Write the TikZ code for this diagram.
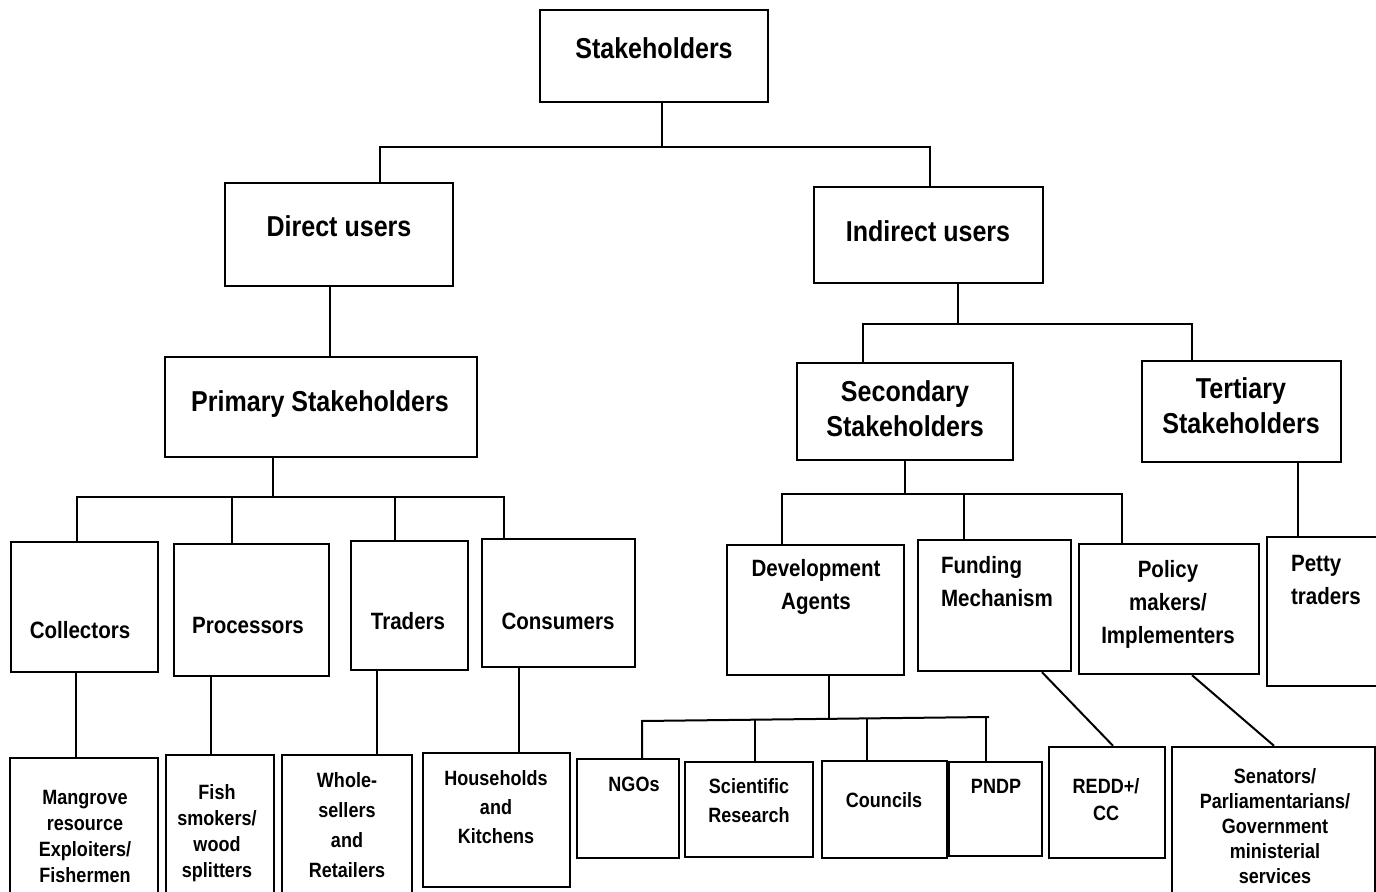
\documentclass[tikz,border=0pt]{standalone}
\usepackage{fontspec}
\setmainfont[FakeStretch=0.87]{Liberation Sans}
\usetikzlibrary{fit}
\begin{document}
\begin{tikzpicture}[x=0.5pt,y=-0.5pt]
  \tikzstyle{box}=[draw,line width=1.2pt,inner sep=0pt]
  \tikzstyle{link}=[line width=1pt]
  \tikzstyle{lvlone}=[font=\fontsize{14.4}{17.5}\selectfont\bfseries,align=center]
  \tikzstyle{lvltwo}=[font=\fontsize{11.8}{16.5}\selectfont\bfseries,align=center]
  \tikzstyle{lvlthree}=[font=\fontsize{10.35}{13}\selectfont\bfseries,align=center]
 \useasboundingbox (0,0) rectangle (1376,892);
 \clip (0,0) rectangle (1376,892);

 \node[box,fit={(540,10) (768,102)}] (stake) {};
 \node[box,fit={(225,183) (453,286)}] (direct) {};
 \node[box,fit={(814,187) (1043,283)}] (indirect) {};
 \node[box,fit={(165,357) (477,457)}] (primary) {};
 \node[box,fit={(797,363) (1013,460)}] (secondary) {};
 \node[box,fit={(1142,361) (1341,462)}] (tertiary) {};
 \node[box,fit={(11,542) (158,672)}] (collect) {};
 \node[box,fit={(174,544) (329,676)}] (process) {};
 \node[box,fit={(351,541) (468,670)}] (trade) {};
 \node[box,fit={(482,539) (635,667)}] (consume) {};
 \node[box,fit={(727,545) (904,675)}] (develop) {};
 \node[box,fit={(918,540) (1071,671)}] (funding) {};
 \node[box,fit={(1079,544) (1259,674)}] (policy) {};
 \node[box,fit={(1267,537) (1400,686)}] (petty) {};
 \node[box,fit={(10,758) (158,910)}] (mangrove) {};
 \node[box,fit={(166,755) (274,910)}] (fish) {};
 \node[box,fit={(282,755) (412,910)}] (whole) {};
 \node[box,fit={(423,753) (570,887)}] (house) {};
 \node[box,fit={(577,759) (679,858)}] (ngo) {};
 \node[box,fit={(685,762) (813,857)}] (science) {};
 \node[box,fit={(822,761) (947,858)}] (council) {};
 \node[box,fit={(949,762) (1042,856)}] (pndp) {};
 \node[box,fit={(1049,747) (1165,858)}] (redd) {};
 \node[box,fit={(1172,747) (1375,910)}] (senator) {};

 \node[lvlone] (stake-t) at (654,48) {Stakeholders};
 \node[lvlone] (direct-t) at (339,226) {Direct users};
 \node[lvlone] (indirect-t) at (928,231) {Indirect users};
 \node[lvlone] (primary-t) at (320,404) {Primary Stakeholders};
 \node[lvlone] (secondary-t) at (905,409) {Secondary\\Stakeholders};
 \node[lvlone] (tertiary-t) at (1241,406) {Tertiary\\Stakeholders};
 \node[lvltwo] (collect-t) at (80,630) {Collectors};
 \node[lvltwo] (process-t) at (248,625) {Processors};
 \node[lvltwo] (trade-t) at (408,621) {Traders};
 \node[lvltwo] (consume-t) at (558,621) {Consumers};
 \node[lvltwo] (develop-t) at (816,587) {Development\\Agents};
 \node[lvltwo,anchor=west,align=left] (funding-t) at (934,582) {Funding\\Mechanism};
 \node[lvltwo] (policy-t) at (1168,604) {Policy\\makers/\\Implementers};
 \node[lvltwo,anchor=west,align=left] (petty-t) at (1284,580) {Petty\\traders};
 \node[lvlthree] (mangrove-t) at (85,836) {Mangrove\\resource\\Exploiters/\\Fishermen};
 \node[lvlthree] (fish-t) at (217,833) {Fish\\smokers/\\wood\\splitters};
 \node[lvlthree,font=\fontsize{10.35}{15}\selectfont\bfseries] (whole-t) at (347,825) {Whole-\\sellers\\and\\Retailers};
 \node[lvlthree,font=\fontsize{10.35}{14.5}\selectfont\bfseries] (house-t) at (496,807) {Households\\and\\Kitchens};
 \node[lvlthree] (ngo-t) at (634,784) {NGOs};
 \node[lvlthree,font=\fontsize{10.35}{14.5}\selectfont\bfseries] (science-t) at (749,801) {Scientific\\Research};
 \node[lvlthree] (council-t) at (884,800) {Councils};
 \node[lvlthree] (pndp-t) at (996,786) {PNDP};
 \node[lvlthree,font=\fontsize{10.35}{13.5}\selectfont\bfseries] (redd-t) at (1106,800) {REDD+/\\CC};
 \node[lvlthree,font=\fontsize{10.35}{12.5}\selectfont\bfseries] (senator-t) at (1275,826) {Senators/\\Parliamentarians/\\Government\\ministerial\\services};

 \coordinate (a0) at (662,147);
 \coordinate (a1) at (380,147);
 \coordinate (a2) at (930,147);
 \coordinate (b0) at (958,324);
 \coordinate (b1) at (863,324);
 \coordinate (b2) at (1192,324);
 \coordinate (c0) at (273,497);
 \coordinate (c1) at (77,497);
 \coordinate (c2) at (232,497);
 \coordinate (c3) at (395,497);
 \coordinate (c4) at (504,497);
 \coordinate (d0) at (905,494);
 \coordinate (d1) at (782,494);
 \coordinate (d2) at (964,494);
 \coordinate (d3) at (1122,494);
 \coordinate (e0) at (829,719);
 \coordinate (e1) at (642,721);
 \coordinate (e2) at (755,720);
 \coordinate (e3) at (867,719);
 \coordinate (e4) at (989,717);
 \coordinate (e5) at (986,717);

 \draw[link] (stake.south -| a0) -- (a0);
 \draw[link] (direct.north -| a1) -- (a1) -- (a2) -- (indirect.north -| a2);
 \draw[link] (direct.south -| 330,0) -- (primary.north -| 330,0);
 \draw[link] (indirect.south -| b0) -- (b0);
 \draw[link] (secondary.north -| b1) -- (b1) -- (b2) -- (tertiary.north -| b2);
 \draw[link] (primary.south -| c0) -- (c0);
 \draw[link] (collect.north -| c1) -- (c1) -- (c4) -- (consume.north -| c4);
 \draw[link] (c2) -- (process.north -| c2);
 \draw[link] (c3) -- (trade.north -| c3);
 \draw[link] (secondary.south -| d0) -- (d0);
 \draw[link] (develop.north -| d1) -- (d1) -- (d3) -- (policy.north -| d3);
 \draw[link] (d2) -- (funding.north -| d2);
 \draw[link] (tertiary.south -| 1298,0) -- (petty.north -| 1298,0);
 \draw[link] (collect.south -| 76,0) -- (mangrove.north -| 76,0);
 \draw[link] (process.south -| 211,0) -- (fish.north -| 211,0);
 \draw[link] (trade.south -| 377,0) -- (whole.north -| 377,0);
 \draw[link] (consume.south -| 519,0) -- (house.north -| 519,0);
 \draw[link] (develop.south -| e0) -- (e0);
 \draw[link] (ngo.north -| e1) -- (e1) -- (e4);
 \draw[link] (e2) -- (science.north -| e2);
 \draw[link] (e3) -- (council.north -| e3);
 \draw[link] (e5) -- (pndp.north -| e5);
 \draw[link] (funding.south -| 1042,0) -- (redd.north -| 1113,0);
 \draw[link] (policy.south -| 1192,0) -- (senator.north -| 1274,0);
\end{tikzpicture}
\end{document}
